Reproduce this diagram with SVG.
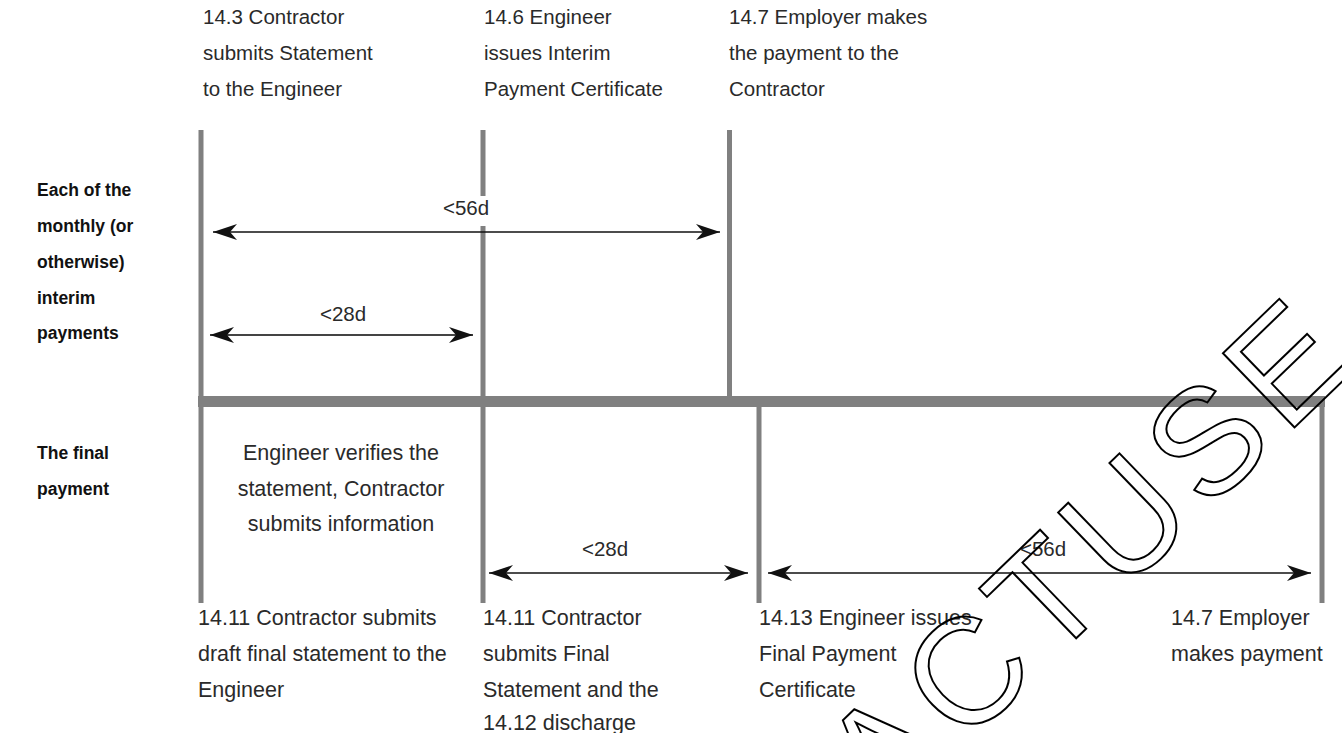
<svg xmlns="http://www.w3.org/2000/svg" width="1342" height="733" viewBox="0 0 1342 733">
<style>
.t{font-family:"Liberation Sans",Arial,sans-serif;font-size:20.5px;fill:#2a2a2a}
.lg{font-size:21.5px}
.b{font-family:"Liberation Sans",Arial,sans-serif;font-size:17.5px;font-weight:bold;fill:#111}
.c{text-anchor:middle}
.v{stroke:#808080;stroke-width:5;fill:none}
.a{stroke:#111;stroke-width:1.5;fill:none;marker-start:url(#ah);marker-end:url(#ah)}
.wm{font-family:"Liberation Sans",Arial,sans-serif;font-size:150px;fill:none;stroke:#000;stroke-width:2;letter-spacing:10px}
</style>
<defs>
<marker id="ah" viewBox="0 0 24 16" refX="24" refY="8" markerWidth="24" markerHeight="16" markerUnits="userSpaceOnUse" orient="auto-start-reverse">
<path d="M24,8 L0,0 L7,8 L0,16 Z" fill="#111"/>
</marker>
</defs>
<rect width="1342" height="733" fill="#fff"/>

<g id="row-labels">
<text class="b" x="37" y="196">Each of the</text>
<text class="b" x="37" y="232">monthly (or</text>
<text class="b" x="37" y="268">otherwise)</text>
<text class="b" x="37" y="304">interim</text>
<text class="b" x="37" y="339">payments</text>
<text class="b" x="37" y="459">The final</text>
<text class="b" x="37" y="495">payment</text>
</g>

<g id="timeline">
<rect x="198" y="396" width="1127" height="11" fill="#808080"/>
<line class="v" x1="201" y1="130" x2="201" y2="603"/>
<line class="v" x1="483" y1="130" x2="483" y2="603"/>
<line class="v" x1="729.5" y1="130" x2="729.5" y2="401"/>
<line class="v" x1="759" y1="401" x2="759" y2="603"/>
<line class="v" x1="1322" y1="401" x2="1322" y2="603"/>
</g>

<g id="n-14-3">
<text class="t" x="203" y="24">14.3 Contractor</text>
<text class="t" x="203" y="60">submits Statement</text>
<text class="t" x="203" y="96">to the Engineer</text>
</g>
<g id="n-14-6">
<text class="t" x="484" y="24">14.6 Engineer</text>
<text class="t" x="484" y="60">issues Interim</text>
<text class="t" x="484" y="96">Payment Certificate</text>
</g>
<g id="n-14-7a">
<text class="t" x="729" y="24">14.7 Employer makes</text>
<text class="t" x="729" y="60">the payment to the</text>
<text class="t" x="729" y="96">Contractor</text>
</g>

<g id="n-verify">
<text class="t lg c" x="341" y="460">Engineer verifies the</text>
<text class="t lg c" x="341" y="496">statement, Contractor</text>
<text class="t lg c" x="341" y="531">submits information</text>
</g>

<g id="n-14-11a">
<text class="t lg" x="198" y="625">14.11 Contractor submits</text>
<text class="t lg" x="198" y="661">draft final statement to the</text>
<text class="t lg" x="198" y="697">Engineer</text>
</g>
<g id="n-14-11b">
<text class="t lg" x="483" y="625">14.11 Contractor</text>
<text class="t lg" x="483" y="661">submits Final</text>
<text class="t lg" x="483" y="697">Statement and the</text>
<text class="t lg" x="483" y="730">14.12 discharge</text>
</g>
<g id="n-14-13">
<text class="t lg" x="759" y="625">14.13 Engineer issues</text>
<text class="t lg" x="759" y="661">Final Payment</text>
<text class="t lg" x="759" y="697">Certificate</text>
</g>
<g id="n-14-7b">
<text class="t lg" x="1171" y="625">14.7 Employer</text>
<text class="t lg" x="1171" y="661">makes payment</text>
</g>

<g id="connectors">
<rect x="436" y="196" width="62" height="30" fill="#fff"/>
<text class="t c" x="466" y="215">&lt;56d</text>
<line class="a" x1="213" y1="232" x2="720" y2="232"/>
<text class="t c" x="343" y="321">&lt;28d</text>
<line class="a" x1="210" y1="335" x2="473" y2="335" style="stroke:#444;stroke-width:2"/>
<text class="t c" x="605" y="556">&lt;28d</text>
<line class="a" x1="489" y1="573" x2="748" y2="573"/>
<text class="t c" x="1043" y="556">&lt;56d</text>
<line class="a" x1="768" y1="573" x2="1311" y2="573"/>
</g>

<text class="wm" transform="translate(884,824) rotate(-44)">ACTUSE</text>
</svg>
